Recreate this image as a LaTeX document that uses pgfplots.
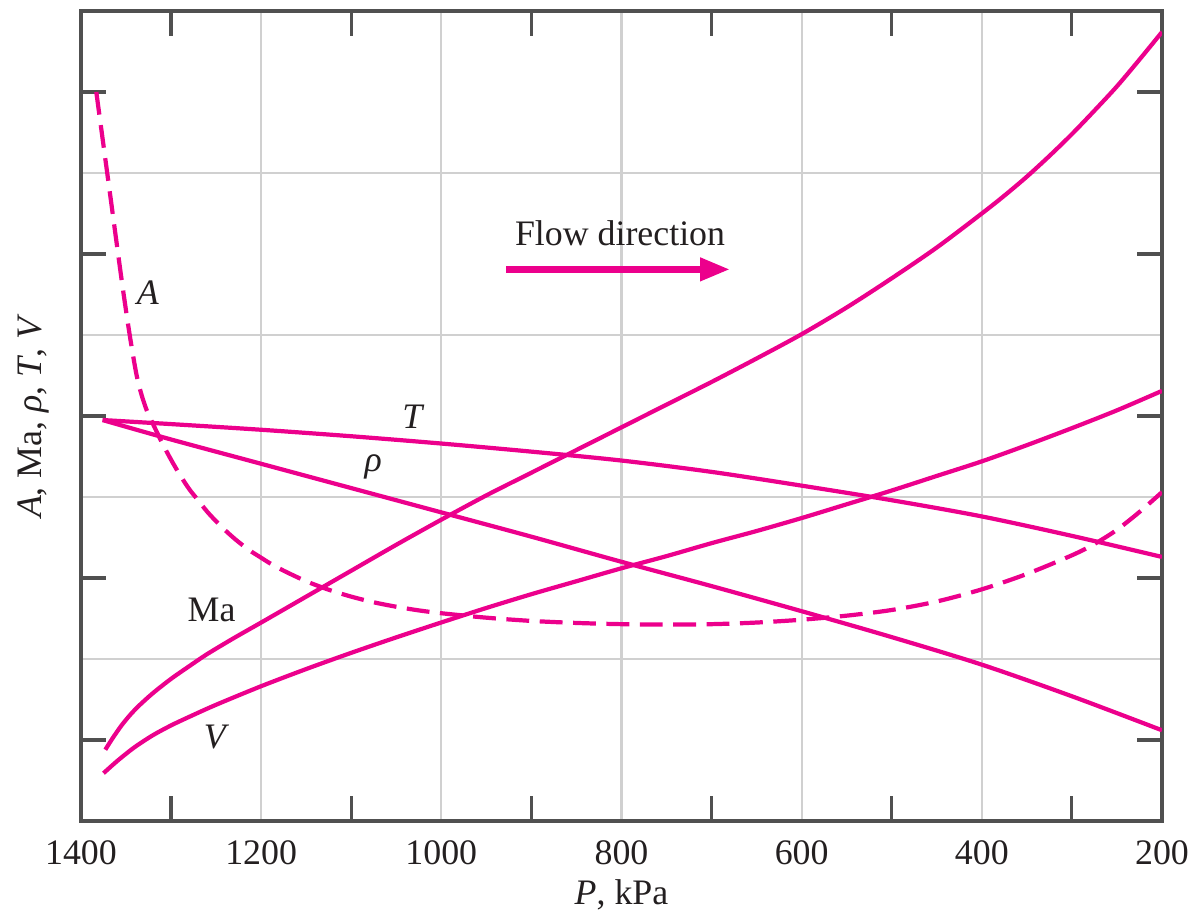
\documentclass[border=0pt]{standalone}
\usepackage{fontspec}
\setmainfont{Liberation Serif}
\usepackage{pgfplots}
\pgfplotsset{compat=1.18}
\usetikzlibrary{arrows.meta}

\definecolor{curve}{RGB}{236,0,140}
\definecolor{frame}{RGB}{80,80,80}
\definecolor{gridc}{RGB}{208,208,208}
\definecolor{txt}{RGB}{35,31,32}

\begin{document}
\fontsize{10.2}{12.2}\selectfont
\begin{tikzpicture}
\begin{axis}[
  scale only axis,
  width=10.81cm, height=8.10cm,
  xmin=200, xmax=1400, ymin=0, ymax=10,
  x dir=reverse,
  xtick={200,400,...,1400},
  minor xtick={300,500,...,1300},
  ytick={2,4,6,8},
  yticklabels={},
  minor ytick={1,3,5,7,9},
  major tick length=0pt,
  minor tick length=0.25cm,
  tick align=inside,
  xmajorgrids, ymajorgrids,
  major grid style={gridc, line width=0.6pt},
  axis line style={frame, line width=0.9pt},
  every tick/.style={frame, line width=0.9pt},
  tick label style={txt},
  xticklabel style={yshift=-2pt},
  /pgf/number format/assume math mode=true,
  /pgf/number format/set thousands separator={},
  xlabel={\textit{P}, kPa},
  ylabel={\textit{A}, Ma, \textit{ρ}, \textit{T}, \textit{V}},
  xlabel style={txt, at={(axis description cs:0.5,-0.0915)}, anchor=center},
  ylabel style={txt, at={(axis description cs:-0.0444,0.5)}, anchor=center},
  every axis plot/.append style={curve, line width=1.2pt},
]

% Ma
\addplot[smooth] coordinates {
  (1373,0.88) (1365,1.02) (1355,1.18) (1345,1.315) (1335,1.43) (1320,1.58)
  (1300,1.755) (1280,1.91) (1260,2.06) (1230,2.26) (1200,2.45) (1150,2.77)
  (1100,3.09) (1050,3.41) (1000,3.72) (950,4.02) (900,4.30) (850,4.58)
  (800,4.86) (750,5.14) (700,5.42) (650,5.71) (600,6.01) (550,6.34)
  (500,6.70) (450,7.08) (400,7.50) (375,7.72) (350,7.955) (325,8.21)
  (300,8.48) (275,8.77) (250,9.07) (225,9.40) (200,9.74)
};
% V
\addplot[smooth] coordinates {
  (1375,0.59) (1365,0.69) (1355,0.785) (1340,0.915) (1320,1.06)
  (1300,1.18) (1280,1.285) (1250,1.435) (1200,1.664) (1150,1.876)
  (1100,2.076) (1050,2.267) (1000,2.451) (950,2.63) (900,2.80) (850,2.96)
  (800,3.12) (750,3.27) (700,3.43) (650,3.58) (600,3.74) (550,3.91)
  (500,4.08) (450,4.26) (400,4.44) (350,4.64) (300,4.85) (250,5.07) (200,5.31)
};
% T
\addplot[smooth] coordinates {
  (1376,4.95) (1300,4.90) (1200,4.83) (1100,4.75) (1000,4.66) (900,4.56)
  (800,4.45) (700,4.31) (600,4.14) (500,3.96) (400,3.76) (300,3.52) (200,3.26)
};
% rho
\addplot[smooth] coordinates {
  (1376,4.95) (1300,4.71) (1200,4.41) (1100,4.11) (1000,3.81) (900,3.51)
  (800,3.20) (700,2.90) (600,2.59) (500,2.27) (400,1.93) (300,1.54) (200,1.12)
};
% A (dashed)
\addplot[smooth, dash pattern=on 6.5pt off 3pt] coordinates {
  (1383,9.00) (1375,8.34) (1367,7.68) (1360,7.10) (1354,6.61) (1348,6.15)
  (1343,5.80) (1338,5.49) (1333,5.27) (1327,5.07) (1320,4.90) (1310,4.67)
  (1300,4.46) (1290,4.27) (1280,4.10) (1270,3.96) (1260,3.82) (1250,3.70)
  (1240,3.59) (1230,3.49) (1220,3.40) (1210,3.32) (1200,3.25) (1190,3.18)
  (1175,3.09) (1150,2.96) (1125,2.855) (1100,2.77) (1075,2.70) (1050,2.645)
  (1025,2.60) (1000,2.565) (950,2.51) (900,2.47) (850,2.445) (800,2.43)
  (750,2.425) (700,2.43) (650,2.45) (600,2.485) (550,2.535) (500,2.605)
  (450,2.71) (400,2.86) (350,3.05) (300,3.28) (275,3.42) (250,3.595)
  (225,3.815) (200,4.06)
};

\node[txt] at (axis cs:1325.6,6.52) {\textit{A}};
\node[txt] at (axis cs:1031,4.99) {\textit{T}};
\node[txt] at (axis cs:1075.5,4.37) {\textit{ρ}};
\node[txt] at (axis cs:1255,2.60) {Ma};
\node[txt] at (axis cs:1249.4,1.04) {\textit{V}};
\node[txt] at (axis cs:801.6,7.26) {Flow direction};
\draw[curve, line width=2pt, -{Triangle[length=3mm,width=2.2mm]}]
  (axis cs:928,6.81) -- (axis cs:679.5,6.81);
\end{axis}
\pgfresetboundingbox
\path[use as bounding box]
  ([shift={(-0.81cm,-0.97cm)}]current axis.south west)
  rectangle ([shift={(0.35cm,0.11cm)}]current axis.north east);
\end{tikzpicture}
\end{document}
